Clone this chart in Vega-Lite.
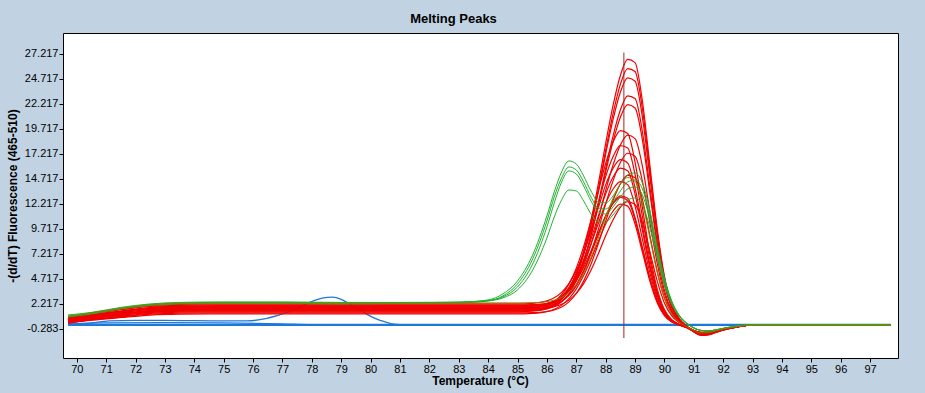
{
"$schema":"https://vega.github.io/schema/vega-lite/v6.json",
"width":835,"height":325,"autosize":"none",
"padding":{"left":63,"top":33,"right":27,"bottom":35},
"background":"#c1d3e3",
"view":{"fill":"white","stroke":"black","strokeWidth":1},
"title":{"text":"Melting Peaks","fontSize":13,"font":"Liberation Sans","fontWeight":"bold","color":"black","offset":7,"dx":-27},
"config":{"font":"Liberation Sans"},
"datasets":{
"w":[
{"t":69.7,"r1":0.6,"r2":0.5,"r3":0.7,"r4":0.4,"r5":0.8,"r6":0.5,"r7":0.9,"r8":0.3,"r9":0.6,"r10":0.8,"r11":0.5,"r12":0.3,"r13":0.7,"r14":0.4,"r15":0.6,"r16":0.5,"r17":0.3,"g1":1.0,"g2":0.9,"g3":1.1,"g4":0.95,"o1":0.9},
{"t":70.5,"r1":0.96,"r2":0.83,"r3":1.09,"r4":0.73,"r5":1.13,"r6":0.86,"r7":1.26,"r8":0.63,"r9":0.96,"r10":1.22,"r11":0.83,"r12":0.6,"r13":1.06,"r14":0.73,"r15":1.02,"r16":0.86,"r17":0.57,"g1":1.3,"g2":1.2,"g3":1.35,"g4":1.25,"o1":1.32},
{"t":71.5,"r1":1.32,"r2":1.16,"r3":1.48,"r4":1.06,"r5":1.46,"r6":1.22,"r7":1.62,"r8":0.96,"r9":1.32,"r10":1.64,"r11":1.16,"r12":0.9,"r13":1.42,"r14":1.06,"r15":1.44,"r16":1.22,"r17":0.84,"g1":1.8,"g2":1.7,"g3":1.85,"g4":1.75,"o1":1.74},
{"t":72.5,"r1":1.64,"r2":1.46,"r3":1.83,"r4":1.36,"r5":1.76,"r6":1.54,"r7":1.94,"r8":1.26,"r9":1.64,"r10":2.02,"r11":1.46,"r12":1.17,"r13":1.74,"r14":1.36,"r15":1.82,"r16":1.54,"r17":1.08,"g1":2.15,"g2":2.05,"g3":2.2,"g4":2.1,"o1":2.12},
{"t":73.5,"r1":1.76,"r2":1.57,"r3":1.96,"r4":1.47,"r5":1.87,"r6":1.66,"r7":2.06,"r8":1.37,"r9":1.76,"r10":2.16,"r11":1.57,"r12":1.27,"r13":1.86,"r14":1.47,"r15":1.96,"r16":1.66,"r17":1.17,"g1":2.3,"g2":2.2,"g3":2.35,"g4":2.25,"o1":2.26},
{"t":75,"r1":1.8,"r2":1.6,"r3":2.0,"r4":1.5,"r5":1.9,"r6":1.7,"r7":2.1,"r8":1.4,"r9":1.8,"r10":2.2,"r11":1.6,"r12":1.3,"r13":1.9,"r14":1.5,"r15":2.0,"r16":1.7,"r17":1.2,"g1":2.35,"g2":2.25,"g3":2.4,"g4":2.3,"o1":2.3},
{"t":77,"r1":1.8,"r2":1.6,"r3":2.0,"r4":1.5,"r5":1.9,"r6":1.7,"r7":2.1,"r8":1.4,"r9":1.8,"r10":2.2,"r11":1.6,"r12":1.3,"r13":1.9,"r14":1.5,"r15":2.0,"r16":1.7,"r17":1.2,"g1":2.35,"g2":2.25,"g3":2.4,"g4":2.3,"o1":2.3},
{"t":79,"r1":1.8,"r2":1.6,"r3":2.0,"r4":1.5,"r5":1.9,"r6":1.7,"r7":2.1,"r8":1.4,"r9":1.8,"r10":2.2,"r11":1.6,"r12":1.3,"r13":1.9,"r14":1.5,"r15":2.0,"r16":1.7,"r17":1.2,"g1":2.3,"g2":2.2,"g3":2.35,"g4":2.25,"o1":2.3},
{"t":81,"r1":1.8,"r2":1.6,"r3":2.0,"r4":1.5,"r5":1.9,"r6":1.7,"r7":2.1,"r8":1.4,"r9":1.8,"r10":2.2,"r11":1.6,"r12":1.3,"r13":1.9,"r14":1.5,"r15":2.0,"r16":1.7,"r17":1.2,"g1":2.3,"g2":2.25,"g3":2.35,"g4":2.3,"o1":2.3},
{"t":83,"r1":1.8,"r2":1.6,"r3":2.0,"r4":1.5,"r5":1.9,"r6":1.7,"r7":2.1,"r8":1.4,"r9":1.8,"r10":2.2,"r11":1.6,"r12":1.3,"r13":1.9,"r14":1.5,"r15":2.0,"r16":1.7,"r17":1.2,"g1":2.35,"g2":2.3,"g3":2.4,"g4":2.35,"o1":2.3},
{"t":84,"r1":1.8,"r2":1.6,"r3":2.0,"r4":1.5,"r5":1.9,"r6":1.7,"r7":2.1,"r8":1.4,"r9":1.8,"r10":2.2,"r11":1.6,"r12":1.3,"r13":1.9,"r14":1.5,"r15":2.0,"r16":1.7,"r17":1.2,"g1":2.6,"g2":2.5,"g3":2.55,"g4":2.5,"o1":2.3},
{"t":84.5,"r1":1.8,"r2":1.6,"r3":2.0,"r4":1.5,"r5":1.9,"r6":1.7,"r7":2.1,"r8":1.4,"r9":1.8,"r10":2.2,"r11":1.6,"r12":1.3,"r13":1.9,"r14":1.5,"r15":2.0,"r16":1.7,"r17":1.2,"g1":3.2,"g2":3.0,"g3":2.9,"g4":2.8,"o1":2.3},
{"t":85,"r1":1.8,"r2":1.6,"r3":2.0,"r4":1.5,"r5":1.9,"r6":1.7,"r7":2.1,"r8":1.4,"r9":1.8,"r10":2.2,"r11":1.6,"r12":1.3,"r13":1.9,"r14":1.5,"r15":2.0,"r16":1.7,"r17":1.2,"g1":4.5,"g2":4.2,"g3":3.9,"g4":3.6,"o1":2.3},
{"t":85.5,"r1":1.84,"r2":1.64,"r3":2.04,"r4":1.54,"r5":1.94,"r6":1.78,"r7":2.13,"r8":1.47,"r9":1.83,"r10":2.26,"r11":1.66,"r12":1.32,"r13":1.95,"r14":1.55,"r15":2.05,"r16":1.72,"r17":1.25,"g1":7.0,"g2":6.6,"g3":6.1,"g4":5.5,"o1":2.32},
{"t":86,"r1":2.05,"r2":1.84,"r3":2.23,"r4":1.71,"r5":2.1,"r6":2.08,"r7":2.27,"r8":1.75,"r9":1.95,"r10":2.51,"r11":1.9,"r12":1.44,"r13":2.17,"r14":1.74,"r15":2.23,"r16":1.81,"r17":1.43,"g1":11.0,"g2":10.5,"g3":9.9,"g4":8.8,"o1":2.43},
{"t":86.25,"r1":2.33,"r2":2.11,"r3":2.49,"r4":1.95,"r5":2.33,"r6":2.46,"r7":2.47,"r8":2.1,"r9":2.13,"r10":2.82,"r11":2.2,"r12":1.59,"r13":2.44,"r14":1.99,"r15":2.47,"r16":1.93,"r17":1.67,"g1":13.4,"g2":12.9,"g3":12.3,"g4":10.9,"o1":2.58},
{"t":86.5,"r1":2.86,"r2":2.63,"r3":2.98,"r4":2.42,"r5":2.77,"r6":3.12,"r7":2.84,"r8":2.72,"r9":2.47,"r10":3.36,"r11":2.73,"r12":1.89,"r13":2.91,"r14":2.42,"r15":2.88,"r16":2.17,"r17":2.08,"g1":15.4,"g2":14.8,"g3":14.4,"g4":12.6,"o1":2.85},
{"t":86.75,"r1":3.79,"r2":3.53,"r3":3.84,"r4":3.22,"r5":3.53,"r6":4.18,"r7":3.48,"r8":3.71,"r9":3.06,"r10":4.23,"r11":3.58,"r12":2.41,"r13":3.66,"r14":3.11,"r15":3.54,"r16":2.58,"r17":2.73,"g1":16.5,"g2":15.9,"g3":15.5,"g4":13.6,"o1":3.34},
{"t":87,"r1":5.28,"r2":4.98,"r3":5.21,"r4":4.51,"r5":4.76,"r6":5.77,"r7":4.52,"r8":5.18,"r9":4.0,"r10":5.53,"r11":4.84,"r12":3.24,"r13":4.79,"r14":4.14,"r15":4.52,"r16":3.25,"r17":3.71,"g1":16.2,"g2":15.6,"g3":15.2,"g4":13.5,"o1":4.12},
{"t":87.25,"r1":7.5,"r2":7.13,"r3":7.26,"r4":6.43,"r5":6.57,"r6":7.92,"r7":6.06,"r8":7.19,"r9":5.4,"r10":7.29,"r11":6.56,"r12":4.48,"r13":6.32,"r14":5.54,"r15":5.85,"r16":4.23,"r17":5.04,"g1":15.0,"g2":14.4,"g3":14.0,"g4":12.5,"o1":5.28},
{"t":87.5,"r1":10.52,"r2":10.05,"r3":10.04,"r4":9.04,"r5":9.05,"r6":10.55,"r7":8.16,"r8":9.63,"r9":7.31,"r10":9.44,"r11":8.66,"r12":6.16,"r13":8.19,"r14":7.25,"r15":7.48,"r16":5.57,"r17":6.66,"g1":13.5,"g2":12.9,"g3":12.5,"g4":11.2,"o1":6.86},
{"t":87.75,"r1":14.21,"r2":13.63,"r3":13.45,"r4":12.23,"r5":12.07,"r6":13.44,"r7":10.73,"r8":12.32,"r9":9.64,"r10":11.81,"r11":10.97,"r12":8.22,"r13":10.24,"r14":9.12,"r15":9.27,"r16":7.21,"r17":8.45,"g1":12.4,"g2":11.8,"g3":11.4,"g4":10.4,"o1":8.79},
{"t":88,"r1":18.26,"r2":17.55,"r3":17.18,"r4":15.73,"r5":15.39,"r6":16.25,"r7":13.55,"r8":14.94,"r9":12.2,"r10":14.11,"r11":13.21,"r12":10.47,"r13":12.24,"r14":10.95,"r15":11.02,"r16":9.01,"r17":10.19,"g1":12.3,"g2":11.7,"g3":11.2,"g4":10.4,"o1":10.91},
{"t":88.25,"r1":22.03,"r2":21.22,"r3":20.63,"r4":18.99,"r5":18.44,"r6":18.37,"r7":16.08,"r8":16.92,"r9":14.51,"r10":15.76,"r11":14.87,"r12":12.54,"r13":13.67,"r14":12.28,"r15":12.23,"r16":10.59,"r17":11.47,"g1":13.0,"g2":12.4,"g3":11.9,"g4":11.1,"o1":12.75},
{"t":88.5,"r1":25.05,"r2":24.16,"r3":23.38,"r4":21.6,"r5":20.87,"r6":19.54,"r7":18.1,"r8":18.03,"r9":16.35,"r10":16.64,"r11":15.78,"r12":14.2,"r13":14.43,"r14":13.01,"r15":12.86,"r16":11.85,"r17":12.18,"g1":14.2,"g2":13.5,"g3":12.9,"g4":12.0,"o1":14.19},
{"t":88.75,"r1":26.66,"r2":25.74,"r3":24.81,"r4":23.01,"r5":22.14,"r6":19.24,"r7":19.09,"r8":17.79,"r9":17.27,"r10":16.28,"r11":15.51,"r12":15.06,"r13":14.13,"r14":12.76,"r15":12.54,"r16":12.42,"r17":11.98,"g1":15.1,"g2":14.4,"g3":13.7,"g4":12.6,"o1":14.84},
{"t":89,"r1":26.34,"r2":25.45,"r3":24.47,"r4":22.74,"r5":21.8,"r6":16.38,"r7":18.74,"r8":15.15,"r9":16.97,"r10":13.81,"r11":13.19,"r12":14.83,"r13":11.98,"r14":10.84,"r15":10.62,"r16":12.15,"r17":10.19,"g1":15.3,"g2":14.6,"g3":13.9,"g4":12.8,"o1":14.46},
{"t":89.25,"r1":22.5,"r2":21.74,"r3":20.89,"r4":19.42,"r5":18.61,"r6":11.85,"r7":15.98,"r8":10.95,"r9":14.48,"r10":10.02,"r11":9.55,"r12":12.66,"r13":8.69,"r14":7.85,"r15":7.72,"r16":10.35,"r17":7.38,"g1":14.3,"g2":13.7,"g3":13.1,"g4":12.1,"o1":12.31},
{"t":89.5,"r1":16.2,"r2":15.66,"r3":15.05,"r4":13.99,"r5":13.41,"r6":7.26,"r7":11.52,"r8":6.7,"r9":10.43,"r10":6.19,"r11":5.87,"r12":9.12,"r13":5.37,"r14":4.84,"r15":4.78,"r16":7.47,"r17":4.53,"g1":11.6,"g2":11.1,"g3":10.7,"g4":9.9,"o1":8.88},
{"t":89.75,"r1":9.83,"r2":9.5,"r3":9.13,"r4":8.48,"r5":8.14,"r6":3.76,"r7":7.0,"r8":3.46,"r9":6.34,"r10":3.24,"r11":3.05,"r12":5.54,"r13":2.81,"r14":2.52,"r15":2.52,"r16":4.55,"r17":2.35,"g1":8.0,"g2":7.7,"g3":7.4,"g4":6.9,"o1":5.41},
{"t":90,"r1":4.98,"r2":4.81,"r3":4.63,"r4":4.3,"r5":4.12,"r6":1.63,"r7":3.55,"r8":1.5,"r9":3.21,"r10":1.42,"r11":1.33,"r12":2.8,"r13":1.23,"r14":1.1,"r15":1.11,"r16":2.3,"r17":1.02,"g1":4.8,"g2":4.6,"g3":4.4,"g4":4.1,"o1":2.74},
{"t":90.25,"r1":2.14,"r2":2.07,"r3":1.99,"r4":1.86,"r5":1.78,"r6":0.62,"r7":1.53,"r8":0.56,"r9":1.39,"r10":0.54,"r11":0.5,"r12":1.21,"r13":0.47,"r14":0.42,"r15":0.43,"r16":1.0,"r17":0.38,"g1":2.5,"g2":2.4,"g3":2.3,"g4":2.15,"o1":1.19},
{"t":90.5,"r1":0.74,"r2":0.72,"r3":0.68,"r4":0.64,"r5":0.6,"r6":0.16,"r7":0.51,"r8":0.15,"r9":0.47,"r10":0.13,"r11":0.13,"r12":0.41,"r13":0.11,"r14":0.1,"r15":0.1,"r16":0.33,"r17":0.1,"g1":1.1,"g2":1.05,"g3":1.0,"g4":0.95,"o1":0.39},
{"t":90.75,"r1":-0.01,"r2":-0.02,"r3":-0.02,"r4":-0.02,"r5":-0.03,"r6":-0.16,"r7":-0.05,"r8":-0.15,"r9":-0.05,"r10":-0.15,"r11":-0.15,"r12":-0.06,"r13":-0.14,"r14":-0.14,"r15":-0.15,"r16":-0.06,"r17":-0.14,"g1":0.3,"g2":0.3,"g3":0.25,"g4":0.25,"o1":-0.06},
{"t":91,"r1":-0.6,"r2":-0.59,"r3":-0.58,"r4":-0.55,"r5":-0.54,"r6":-0.55,"r7":-0.51,"r8":-0.53,"r9":-0.49,"r10":-0.51,"r11":-0.5,"r12":-0.46,"r13":-0.48,"r14":-0.46,"r15":-0.46,"r16":-0.43,"r17":-0.45,"g1":-0.2,"g2":-0.2,"g3":-0.2,"g4":-0.2,"o1":-0.46},
{"t":91.25,"r1":-0.94,"r2":-0.92,"r3":-0.9,"r4":-0.86,"r5":-0.84,"r6":-0.79,"r7":-0.78,"r8":-0.76,"r9":-0.75,"r10":-0.73,"r11":-0.72,"r12":-0.7,"r13":-0.69,"r14":-0.66,"r15":-0.66,"r16":-0.65,"r17":-0.64,"g1":-0.45,"g2":-0.45,"g3":-0.45,"g4":-0.45,"o1":-0.7},
{"t":91.5,"r1":-0.89,"r2":-0.87,"r3":-0.86,"r4":-0.82,"r5":-0.8,"r6":-0.75,"r7":-0.74,"r8":-0.72,"r9":-0.71,"r10":-0.69,"r11":-0.68,"r12":-0.67,"r13":-0.66,"r14":-0.63,"r15":-0.63,"r16":-0.62,"r17":-0.61,"g1":-0.5,"g2":-0.5,"g3":-0.5,"g4":-0.5,"o1":-0.67},
{"t":91.75,"r1":-0.66,"r2":-0.64,"r3":-0.63,"r4":-0.6,"r5":-0.59,"r6":-0.55,"r7":-0.55,"r8":-0.53,"r9":-0.53,"r10":-0.51,"r11":-0.5,"r12":-0.49,"r13":-0.48,"r14":-0.46,"r15":-0.46,"r16":-0.46,"r17":-0.45,"g1":-0.4,"g2":-0.4,"g3":-0.4,"g4":-0.4,"o1":-0.49},
{"t":92,"r1":-0.42,"r2":-0.41,"r3":-0.41,"r4":-0.39,"r5":-0.38,"r6":-0.36,"r7":-0.35,"r8":-0.34,"r9":-0.34,"r10":-0.33,"r11":-0.32,"r12":-0.32,"r13":-0.31,"r14":-0.3,"r15":-0.3,"r16":-0.29,"r17":-0.29,"g1":-0.25,"g2":-0.25,"g3":-0.25,"g4":-0.25,"o1":-0.32},
{"t":92.5,"r1":-0.09,"r2":-0.09,"r3":-0.09,"r4":-0.09,"r5":-0.08,"r6":-0.08,"r7":-0.08,"r8":-0.08,"r9":-0.08,"r10":-0.07,"r11":-0.07,"r12":-0.07,"r13":-0.07,"r14":-0.07,"r15":-0.07,"r16":-0.07,"r17":-0.06,"g1":0,"g2":0,"g3":0,"g4":0,"o1":-0.07},
{"t":93,"r1":0.1,"r2":0.1,"r3":0.1,"r4":0.1,"r5":0.1,"r6":0.1,"r7":0.1,"r8":0.1,"r9":0.1,"r10":0.1,"r11":0.1,"r12":0.1,"r13":0.1,"r14":0.1,"r15":0.1,"r16":0.1,"r17":0.1,"g1":0.1,"g2":0.1,"g3":0.1,"g4":0.1,"o1":0.1},
{"t":97.7,"r1":0.1,"r2":0.1,"r3":0.1,"r4":0.1,"r5":0.1,"r6":0.1,"r7":0.1,"r8":0.1,"r9":0.1,"r10":0.1,"r11":0.1,"r12":0.1,"r13":0.1,"r14":0.1,"r15":0.1,"r16":0.1,"r17":0.1,"g1":0.1,"g2":0.1,"g3":0.1,"g4":0.1,"o1":0.1}
],
"b":[
{"k":"b1","t":69.7,"v":0.05},{"k":"b1","t":97.7,"v":0.05},
{"k":"b2","t":69.7,"v":0.3},{"k":"b2","t":70.5,"v":0.12},{"k":"b2","t":97.7,"v":0.12},
{"k":"b3","t":69.7,"v":0.15},{"k":"b3","t":97.7,"v":0.15},
{"k":"b5","t":69.7,"v":0.2},{"k":"b5","t":71,"v":0.3},{"k":"b5","t":73,"v":0.32},{"k":"b5","t":75,"v":0.3},{"k":"b5","t":77,"v":0.2},{"k":"b5","t":78,"v":0.12},{"k":"b5","t":97.7,"v":0.12},
{"k":"b4","t":69.7,"v":0.25},{"k":"b4","t":70.1,"v":0.18},{"k":"b4","t":70.5,"v":0.3},{"k":"b4","t":71.1,"v":0.5},{"k":"b4","t":72,"v":0.55},{"k":"b4","t":73,"v":0.55},{"k":"b4","t":74,"v":0.52},{"k":"b4","t":75,"v":0.5},{"k":"b4","t":75.8,"v":0.5},{"k":"b4","t":76.47,"v":0.76},{"k":"b4","t":77,"v":1.2},{"k":"b4","t":77.38,"v":1.6},{"k":"b4","t":77.7,"v":2.05},{"k":"b4","t":78.05,"v":2.5},{"k":"b4","t":78.35,"v":2.78},{"k":"b4","t":78.7,"v":2.88},{"k":"b4","t":79.0,"v":2.65},{"k":"b4","t":79.31,"v":2.15},{"k":"b4","t":79.65,"v":1.6},{"k":"b4","t":79.88,"v":1.15},{"k":"b4","t":80.15,"v":0.75},{"k":"b4","t":80.5,"v":0.4},{"k":"b4","t":80.8,"v":0.18},{"k":"b4","t":81.2,"v":0.1},{"k":"b4","t":97.7,"v":0.1}
],
"c":[{"t":88.62,"v":27.34,"v2":-1.21}]
},
"encoding":{
"x":{"field":"t","type":"quantitative","scale":{"domain":[69.53,97.95],"nice":false,"zero":false},
"axis":{"values":[70,71,72,73,74,75,76,77,78,79,80,81,82,83,84,85,86,87,88,89,90,91,92,93,94,95,96,97],"title":"Temperature (°C)","grid":false,"domain":false,"tickSize":4,"tickColor":"black","labelFontSize":11,"labelColor":"black","labelPadding":1,"labelFlush":false,"labelOverlap":false,"titleFontSize":12,"titleFontWeight":"bold","titleColor":"black","titlePadding":1,"titleX":417}},
"y":{"field":"v","type":"quantitative","scale":{"domain":[-3.21,29.3],"nice":false,"zero":false},
"axis":{"values":[-0.283,2.217,4.717,7.217,9.717,12.217,14.717,17.217,19.717,22.217,24.717,27.217],"labelExpr":"replace(format(datum.value,'.3f'),'−','-')","title":"-(d/dT) Fluorescence (465-510)","grid":false,"domain":false,"tickSize":4,"tickColor":"black","labelFontSize":11,"labelColor":"black","labelPadding":1,"labelOverlap":false,"titleFontSize":12,"titleFontWeight":"bold","titleColor":"black","titlePadding":5}}
},
"layer":[
{"data":{"name":"b"},"mark":{"type":"line","interpolate":"monotone","strokeWidth":1.3,"color":"#1e78dc"},"encoding":{"detail":{"field":"k"}}},
{"data":{"name":"w"},"transform":[{"fold":["r1","r2","r3","r4","r5","r6","r7","r8","r9","r10","r11","r12","r13","r14","r15","r16","r17"],"as":["k","v"]}],"mark":{"type":"line","interpolate":"monotone","strokeWidth":1.2,"color":"#f00000"},"encoding":{"detail":{"field":"k"}}},
{"data":{"name":"w"},"transform":[{"fold":["g1","g2","g3","g4"],"as":["k","v"]}],"mark":{"type":"line","interpolate":"monotone","strokeWidth":1,"color":"#20b030"},"encoding":{"detail":{"field":"k"}}},
{"data":{"name":"w"},"transform":[{"fold":["o1"],"as":["k","v"]}],"mark":{"type":"line","interpolate":"monotone","strokeWidth":1,"color":"#8a7d00"},"encoding":{"detail":{"field":"k"}}},
{"data":{"name":"c"},"mark":{"type":"rule","color":"#a52020","strokeWidth":1},"encoding":{"y2":{"field":"v2"}}}
]
}
